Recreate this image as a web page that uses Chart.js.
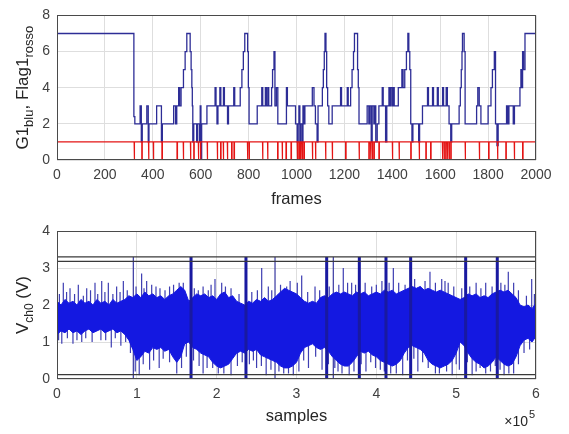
<!DOCTYPE html>
<html>
<head>
<meta charset="utf-8">
<script src="https://cdn.jsdelivr.net/npm/chart.js@4.4.1/dist/chart.umd.min.js"></script>
<style>
  html, body { margin: 0; padding: 0; background: #fff; }
  #wrap { position: relative; width: 569px; height: 434px; }
  canvas { position: absolute; left: 0; }
</style>
</head>
<body>
<div id="wrap">
  <canvas id="topChart" width="569" height="215" style="top:0"></canvas>
  <canvas id="bottomChart" width="569" height="219" style="top:215px"></canvas>
</div>
<script>
// ---- top plot: G1 (blue steps) and Flag1 (red, drops to 0) ----
const g1Steps = [
  [0,7],[321,2.4],[325,2],[347,3],[352,1],[356,2],[375,3],[381,1],[384,2],[416,3],[436,1],[440,2],
  [487,3],[495,2],[500,3],[508,4],[512,3],[518,4],[528,5],[535,6],[542,7],[556,6],[560,5],[563,4],
  [565,3],[567,1],[571,2],[583,1],[587,2],[595,1],[598,3],[601,0],[604,2],[626,3],[660,4],[664,3],
  [668,2],[672,3],[680,4],[684,3],[695,4],[699,3],[712,2],[716,3],[738,4],[742,3],[765,4],[772,5],
  [778,6],[784,7],[796,6],[799,4],[802,2],[836,3],[855,4],[859,3],[870,4],[874,3],[880,4],[884,3],
  [896,4],[900,5],[906,6],[910,3],[916,4],[922,2],[958,4],[962,3],[996,2],[1003,1],[1007,2],[1010,3],
  [1014,1],[1018,2],[1024,1],[1027,3],[1031,2],[1035,3],[1066,4],[1073,3],[1079,2],[1086,1],[1090,3],
  [1108,4],[1112,5],[1116,6],[1119,7],[1123,6],[1126,4],[1130,3],[1135,2],[1149,3],[1184,4],[1188,3],
  [1212,4],[1216,3],[1226,4],[1232,5],[1238,6],[1242,7],[1255,5],[1258,4],[1261,2],[1295,3],[1302,2],
  [1306,3],[1312,1],[1316,3],[1323,2],[1327,3],[1331,1],[1337,2],[1344,3],[1358,4],[1362,3],[1372,1],
  [1377,3],[1386,4],[1390,3],[1394,4],[1400,3],[1405,4],[1408,3],[1425,4],[1440,5],[1445,4],[1452,5],
  [1459,6],[1465,7],[1469,6],[1473,5],[1477,2],[1482,1],[1486,2],[1510,1],[1514,2],[1526,3],[1547,4],
  [1551,3],[1568,4],[1572,3],[1588,4],[1592,3],[1610,4],[1614,3],[1625,4],[1630,3],[1637,2],[1644,1],
  [1648,2],[1679,3],[1684,4],[1688,5],[1691,6],[1693,7],[1700,6],[1704,2],[1752,3],[1757,4],[1763,3],
  [1770,2],[1800,3],[1812,4],[1818,5],[1826,6],[1831,2],[1837,0.8],[1842,2],[1877,3],[1882,2],[1887,3],
  [1905,2],[1910,3],[1933,4],[1937,5],[1940,4],[1944,6],[1948,5],[1954,7],[2000,7]
];
const flagDrops = [322, 354, 382, 402, 438, 501, 527, 557, 571, 590, 599, 627, 669, 683, 694, 711, 729,
  739, 795, 802, 858, 879, 921, 940, 956, 977, 1003, 1010, 1017, 1024, 1031, 1066, 1079, 1121, 1149,
  1205, 1261, 1302, 1309, 1316, 1323, 1344, 1400, 1428, 1477, 1512, 1540, 1560, 1609, 1616, 1623, 1630,
  1637, 1644, 1704, 1763, 1802, 1839, 1874, 1909, 1944];

// ---- bottom plot: V_ch0 core band [sample, upper, lower] ----
const vEnvelope = [
  [0,2.1,1.2],[5000,2.0,1.3],[10000,2.15,1.25],[15000,2.05,1.35],[20000,2.1,1.25],[25000,2.0,1.3],
  [30000,2.15,1.2],[35000,2.05,1.3],[40000,2.1,1.35],[45000,2.0,1.25],[50000,2.15,1.3],[55000,2.05,1.35],
  [60000,2.1,1.25],[65000,2.0,1.3],[70000,2.15,1.35],[75000,2.05,1.25],[80000,2.1,1.3],[85000,2.15,1.2],
  [90000,2.25,1.05],[95000,2.2,0.8],[100000,2.3,0.5],[105000,2.2,0.6],[110000,2.35,0.75],[115000,2.25,0.7],
  [120000,2.3,0.85],[125000,2.2,0.8],[130000,2.25,0.85],[135000,2.15,0.75],[140000,2.25,0.8],[145000,2.3,0.6],
  [150000,2.4,0.45],[155000,2.5,0.6],[160000,2.4,0.95],[165000,2.1,1.0],[170000,2.2,0.85],[175000,2.3,0.8],
  [180000,2.25,0.7],[185000,2.3,0.65],[190000,2.2,0.6],[195000,2.25,0.45],[200000,2.15,0.35],[205000,2.3,0.3],
  [210000,2.35,0.35],[215000,2.2,0.4],[220000,2.25,0.55],[225000,2.1,0.7],[230000,2.05,0.75],[235000,2.0,0.7],
  [240000,2.1,0.8],[245000,2.05,0.75],[250000,2.15,0.8],[255000,2.1,0.65],[260000,2.2,0.6],[265000,2.1,0.55],
  [270000,2.15,0.5],[275000,2.25,0.45],[280000,2.35,0.35],[285000,2.45,0.3],[290000,2.4,0.3],[295000,2.35,0.35],
  [300000,2.3,0.45],[305000,2.2,0.7],[310000,2.1,0.85],[315000,2.05,0.9],[320000,2.1,0.95],[325000,2.05,0.85],
  [330000,2.2,0.8],[335000,2.25,0.85],[340000,2.2,0.75],[345000,2.3,0.6],[350000,2.35,0.5],[355000,2.3,0.4],
  [360000,2.35,0.35],[365000,2.3,0.35],[370000,2.25,0.45],[375000,2.35,0.6],[380000,2.3,0.75],[385000,2.35,0.7],
  [390000,2.25,0.75],[395000,2.3,0.65],[400000,2.35,0.6],[405000,2.3,0.5],[410000,2.4,0.45],[415000,2.35,0.4],
  [420000,2.4,0.35],[425000,2.3,0.4],[430000,2.35,0.5],[435000,2.4,0.7],[440000,2.45,0.85],[445000,2.5,0.9],
  [450000,2.45,0.85],[455000,2.5,0.8],[460000,2.4,0.7],[465000,2.45,0.5],[470000,2.4,0.4],[475000,2.35,0.35],
  [480000,2.4,0.3],[485000,2.35,0.35],[490000,2.3,0.4],[495000,2.25,0.5],[500000,2.2,0.7],[505000,2.15,1.0],
  [510000,2.2,0.9],[515000,2.3,0.7],[520000,2.25,0.55],[525000,2.3,0.45],[530000,2.2,0.4],[535000,2.25,0.3],
  [540000,2.2,0.35],[545000,2.3,0.45],[550000,2.35,0.6],[555000,2.4,0.5],[560000,2.35,0.4],[565000,2.4,0.35],
  [570000,2.3,0.4],[575000,2.2,0.6],[580000,2.0,0.9],[585000,1.95,1.05],[590000,2.0,1.1],[595000,1.9,1.0],
  [600000,2.05,1.15]
];
// upward thin spikes [sample, top]
const vUpSpikes = [
  [3000,2.3],[7900,2.6],[12000,2.35],[16300,2.45],[22000,2.3],[26700,2.55],[33000,2.25],[37200,2.45],
  [42000,2.4],[47600,2.6],[51000,2.3],[56000,2.65],[60000,2.35],[64300,2.6],[70000,2.3],[74700,2.5],
  [79000,2.35],[83100,2.65],[88000,2.4],[99000,2.5],[106000,2.85],[109000,2.45],[112300,2.65],[118600,2.55],
  [124000,2.5],[129000,2.45],[135300,2.4],[141000,2.5],[146000,2.55],[153000,2.6],[158200,2.6],[172000,2.45],
  [177000,2.4],[183000,2.5],[189500,2.4],[193000,2.55],[197900,2.7],[206300,2.6],[211000,2.5],[218000,2.45],
  [228000,2.3],[244000,2.35],[251000,2.4],[256400,3.0],[264700,2.5],[269000,2.4],[280000,2.55],[287700,2.5],
  [292000,2.65],[301000,2.6],[306500,2.8],[314000,2.35],[323200,2.5],[329000,2.4],[341000,2.5],[353000,2.55],
  [358600,3.0],[364000,2.6],[369100,2.6],[374000,2.55],[386000,2.6],[394200,2.5],[400000,2.55],[407000,2.65],
  [416000,2.6],[421300,3.0],[428000,2.6],[436000,2.55],[448000,2.7],[455000,2.5],[461000,2.65],[467200,2.9],
  [474000,2.6],[481900,2.7],[486000,2.65],[490000,2.6],[497000,2.5],[507000,2.45],[517000,2.5],[525000,2.6],
  [531000,2.45],[537000,2.6],[545000,2.5],[556000,2.6],[561000,2.55],[565300,2.9],[572000,2.6],[578000,2.4],
  [588000,2.25],[594600,2.7],[598000,2.3]
];
// downward thin spikes [sample, bottom]
const vDownSpikes = [
  [2000,1.05],[6000,0.95],[13000,1.1],[20000,0.95],[25000,1.05],[31000,1.0],[36000,1.1],[44000,1.0],
  [55000,1.05],[61000,1.05],[68000,0.85],[73000,1.1],[80000,0.9],[86000,1.0],[92000,0.7],[98000,0.2],
  [103000,0.1],[108000,0.4],[116000,0.25],[121000,0.5],[128000,0.3],[133000,0.55],[141000,0.45],[150000,0.15],
  [156000,0.3],[162000,0.6],[171000,0.5],[178000,0.35],[183000,0.15],[188000,0.3],[195000,0.3],[202000,0.15],
  [209000,0.15],[218000,0.1],[226000,0.35],[232000,0.45],[241000,0.4],[246000,0.5],[250000,0.3],[256000,0.35],
  [262000,0.1],[268000,0.25],[278000,0.2],[284000,0.15],[290000,0.15],[296000,0.1],[303000,0.2],[309000,0.5],
  [315000,0.3],[324000,0.6],[332000,0.25],[340000,0.4],[348000,0.3],[352000,0.2],[357000,0.15],[366000,0.1],
  [372000,0.2],[381000,0.4],[387000,0.2],[393000,0.45],[399000,0.3],[405000,0.25],[410000,0.2],[418000,0.15],
  [425000,0.15],[433000,0.1],[439000,0.5],[447000,0.55],[452000,0.2],[458000,0.45],[465000,0.3],[474000,0.15],
  [479000,0.15],[488000,0.2],[495000,0.1],[500000,0.4],[504000,0.25],[514000,0.45],[520000,0.1],[525000,0.2],
  [530000,0.3],[537000,0.15],[543000,0.2],[549000,0.35],[555000,0.25],[560000,0.1],[566000,0.15],[572000,0.15],
  [578000,0.4],[585000,0.7],[592000,0.8]
];
// thin spikes spanning the whole range, and thick saturating ones
const vFullThin = [95600, 273100, 346100];
const vThickSpikes = [167900, 236700, 337800, 378700, 412100, 443000, 511900, 551500];
const vRefLevels = [3.3, 3.18, 0.12];

const FONT = '"Liberation Sans", Arial, Helvetica, sans-serif';
const TICK_COLOR = '#404040';
const GRID_COLOR = '#dedede';

function segments(list) {
  const pts = [];
  list.forEach(([x, hi, lo]) => {
    pts.push({ x: x, y: lo }, { x: x, y: hi }, { x: x, y: null });
  });
  return pts;
}

function drawRich(ctx, parts, x, y) {
  ctx.save();
  ctx.translate(x, y);
  ctx.rotate(-Math.PI / 2);
  let total = 0;
  parts.forEach(p => { ctx.font = p.size + 'px ' + FONT; p.w = ctx.measureText(p.text).width; total += p.w; });
  let cx = -total / 2;
  ctx.textAlign = 'left';
  ctx.textBaseline = 'alphabetic';
  parts.forEach(p => {
    ctx.font = p.size + 'px ' + FONT;
    ctx.fillText(p.text, cx, p.dy);
    cx += p.w;
  });
  ctx.restore();
}

const matlabText = {
  id: 'matlabText',
  afterDraw(chart, args, opts) {
    const ctx = chart.ctx;
    const a = chart.chartArea;
    ctx.save();
    ctx.strokeStyle = '#4a4a4a';
    ctx.lineWidth = 1;
    ctx.strokeRect(Math.round(a.left) + 0.5, Math.round(a.top) + 0.5,
      Math.round(a.right - a.left) - 1, Math.round(a.bottom - a.top) - 1);
    ctx.fillStyle = '#262626';
    ctx.font = '16.5px ' + FONT;
    ctx.textAlign = 'center';
    ctx.textBaseline = 'middle';
    ctx.fillText(opts.xTitle, (a.left + a.right) / 2, a.bottom + opts.xTitleOffset);
    drawRich(ctx, opts.yParts, opts.yX, (a.top + a.bottom) / 2 + opts.yShift);
    if (opts.exponent) {
      ctx.font = '14px ' + FONT;
      ctx.textAlign = 'right';
      ctx.fillText('\u00d710', a.right - 8, a.bottom + 43);
      ctx.font = '11px ' + FONT;
      ctx.textAlign = 'left';
      ctx.fillText(opts.exponent, a.right - 7, a.bottom + 36);
    }
    ctx.restore();
  }
};

function axes(xMax, xStep, yMax, yStep, xTickCb) {
  return {
    x: {
      type: 'linear', min: 0, max: xMax,
      ticks: { stepSize: xStep, color: TICK_COLOR, font: { family: FONT, size: 14 }, padding: 7,
               maxRotation: 0, autoSkip: false, callback: xTickCb },
      grid: { color: GRID_COLOR, drawTicks: false },
      border: { display: false },
      afterFit: s => { s.height = 55; }
    },
    y: {
      min: 0, max: yMax,
      ticks: { stepSize: yStep, color: TICK_COLOR, font: { family: FONT, size: 14 }, padding: 7 },
      grid: { color: GRID_COLOR, drawTicks: false },
      border: { display: false },
      afterFit: s => { s.width = 57; }
    }
  };
}

// top chart
const flagPts = [{ x: 0, y: 1 }];
flagDrops.forEach(f => {
  flagPts.push({ x: f, y: 1 }, { x: f, y: 0 }, { x: f + 2, y: 0 }, { x: f + 2, y: 1 });
});
flagPts.push({ x: 2000, y: 1 });

new Chart(document.getElementById('topChart'), {
  type: 'line',
  data: {
    datasets: [
      {
        label: 'Flag1',
        data: flagPts,
        borderColor: 'rgb(228,20,20)',
        borderWidth: 1.2,
        pointRadius: 0,
        order: 0
      },
      {
        label: 'G1',
        data: g1Steps.map(([f, v]) => ({ x: f, y: v })),
        stepped: 'before',
        borderColor: 'rgb(45,45,150)',
        borderWidth: 1.3,
        pointRadius: 0,
        order: 1
      }
    ]
  },
  options: {
    responsive: false,
    animation: false,
    layout: { padding: { top: 10, right: 33, left: 0, bottom: 0 } },
    plugins: {
      legend: { display: false },
      tooltip: { enabled: false },
      matlabText: {
        xTitle: 'frames', xTitleOffset: 39, yX: 22, yShift: 0,
        yParts: [
          { text: 'G1', size: 17, dy: 6 },
          { text: 'blu', size: 13, dy: 11 },
          { text: ', Flag1', size: 17, dy: 6 },
          { text: 'rosso', size: 13, dy: 11 }
        ]
      }
    },
    scales: axes(2000, 200, 8, 2)
  },
  plugins: [matlabText]
});

// bottom chart: band is drawn over the thin spikes, thick spikes and reference lines on top
const BAND = 'rgb(20,24,225)';
new Chart(document.getElementById('bottomChart'), {
  type: 'line',
  data: {
    datasets: [
      {
        label: 'upper',
        data: vEnvelope.map(([s, hi]) => ({ x: s, y: hi })),
        borderColor: BAND,
        backgroundColor: BAND,
        borderWidth: 1,
        pointRadius: 0,
        fill: '+1',
        order: 2
      },
      {
        label: 'lower',
        data: vEnvelope.map(([s, hi, lo]) => ({ x: s, y: lo })),
        borderColor: BAND,
        borderWidth: 1,
        pointRadius: 0,
        order: 3
      },
      {
        label: 'up spikes',
        data: segments(vUpSpikes.map(([s, top]) => [s, top, 1.6])),
        borderColor: 'rgb(62,62,178)',
        borderWidth: 1.2,
        pointRadius: 0,
        spanGaps: false,
        order: 5
      },
      {
        label: 'down spikes',
        data: segments(vDownSpikes.map(([s, bottom]) => [s, 1.5, bottom])),
        borderColor: 'rgb(62,62,178)',
        borderWidth: 1.2,
        pointRadius: 0,
        spanGaps: false,
        order: 6
      },
      {
        label: 'full thin',
        data: segments(vFullThin.map(s => [s, 3.3, 0])),
        borderColor: 'rgb(55,55,160)',
        borderWidth: 1.2,
        pointRadius: 0,
        spanGaps: false,
        order: 4
      },
      {
        label: 'thick',
        data: segments(vThickSpikes.map(s => [s, 3.3, 0])),
        borderColor: 'rgb(25,25,160)',
        borderWidth: 3,
        pointRadius: 0,
        spanGaps: false,
        order: 1
      },
      ...vRefLevels.map((lv, i) => ({
        label: 'ref' + i,
        data: [{ x: 0, y: lv }, { x: 600000, y: lv }],
        borderColor: '#3a3a3a',
        borderWidth: 1.3,
        pointRadius: 0,
        order: 0
      }))
    ]
  },
  options: {
    responsive: false,
    animation: false,
    layout: { padding: { top: 16, right: 33, left: 0, bottom: 0 } },
    plugins: {
      legend: { display: false },
      tooltip: { enabled: false },
      matlabText: {
        xTitle: 'samples', xTitleOffset: 37, yX: 22, yShift: 0, exponent: '5',
        yParts: [
          { text: 'V', size: 17, dy: 6 },
          { text: 'ch0', size: 12, dy: 11 },
          { text: ' (V)', size: 17, dy: 6 }
        ]
      }
    },
    scales: axes(600000, 100000, 4, 1, v => v / 100000)
  },
  plugins: [matlabText]
});
</script>
</body>
</html>
